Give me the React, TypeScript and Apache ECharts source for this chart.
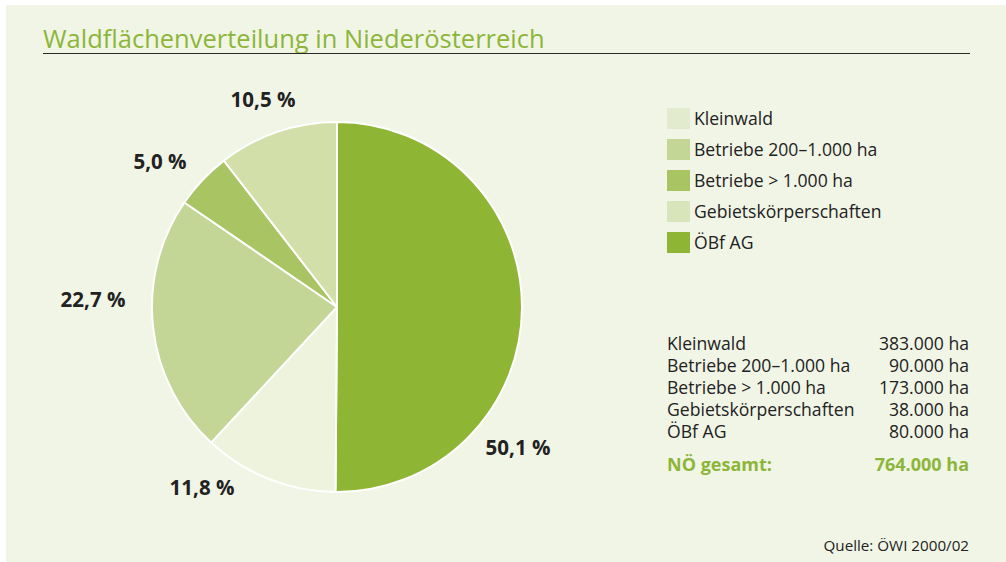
import React, { useEffect, useRef } from "react";
import * as echarts from "echarts";

const sliceNames = ["Kleinwald", "Betriebe 200–1.000 ha", "Betriebe > 1.000 ha", "Gebietskörperschaften", "ÖBf AG"];
const sliceValues = [383, 90, 173, 38, 80];
const sliceLabels = ["50,1 %", "11,8 %", "22,7 %", "5,0 %", "10,5 %"];
const sliceColors = ["#8fb534", "#eef3de", "#c3d696", "#a8c463", "#d2dfa9"];

const legendNames = ["Kleinwald", "Betriebe 200–1.000 ha", "Betriebe > 1.000 ha", "Gebietskörperschaften", "ÖBf AG"];
const legendColors = ["#e3ebcf", "#c3d696", "#a8c463", "#d8e4ba", "#8fb534"];

const tableNames = ["Kleinwald", "Betriebe 200–1.000 ha", "Betriebe > 1.000 ha", "Gebietskörperschaften", "ÖBf AG"];
const tableValues = ["383.000 ha", "90.000 ha", "173.000 ha", "38.000 ha", "80.000 ha"];
const totalLabel = "NÖ gesamt:";
const totalValue = "764.000 ha";

const labelPos = [
  [518, 447],
  [202, 487],
  [93, 299],
  [160, 161],
  [263, 99],
];

const FONT = "'Open Sans', 'Noto Sans', sans-serif";
const GREEN = "#8db53a";
const DARK = "#222222";

export default function App() {
  const ref = useRef<HTMLDivElement>(null);
  useEffect(() => {
    if (!ref.current) return;
    const chart = echarts.init(ref.current, undefined, { renderer: "svg" });
    const graphics: any[] = [
      { type: "rect", z: -10, shape: { x: 6, y: 5, width: 1000, height: 557 }, style: { fill: "#f1f5e6" } },
      {
        type: "text", x: 43, y: 38,
        style: { text: "Waldflächenverteilung in Niederösterreich", fill: GREEN, font: `25.5px ${FONT}`, textVerticalAlign: "middle" },
      },
      { type: "line", shape: { x1: 43, y1: 53.5, x2: 970, y2: 53.5 }, style: { stroke: "#2a2a2a", lineWidth: 1.2 } },
    ];
    legendNames.forEach((n, i) => {
      const cy = 118 + i * 31;
      graphics.push({ type: "rect", shape: { x: 667, y: cy - 10, width: 23, height: 21 }, style: { fill: legendColors[i] } });
      graphics.push({ type: "text", x: 694, y: cy, style: { text: n, fill: DARK, font: `17.6px ${FONT}`, textVerticalAlign: "middle" } });
    });
    tableNames.forEach((n, i) => {
      const cy = 343 + i * 22;
      graphics.push({ type: "text", x: 667, y: cy, style: { text: n, fill: DARK, font: `17.6px ${FONT}`, textVerticalAlign: "middle" } });
      graphics.push({ type: "text", x: 969, y: cy, style: { text: tableValues[i], fill: DARK, font: `17.6px ${FONT}`, textAlign: "right", textVerticalAlign: "middle" } });
    });
    graphics.push({ type: "text", x: 667, y: 464, style: { text: totalLabel, fill: GREEN, font: `bold 18px ${FONT}`, textVerticalAlign: "middle" } });
    graphics.push({ type: "text", x: 969, y: 464, style: { text: totalValue, fill: GREEN, font: `bold 18px ${FONT}`, textAlign: "right", textVerticalAlign: "middle" } });
    graphics.push({ type: "text", x: 969, y: 545, style: { text: "Quelle: ÖWI 2000/02", fill: DARK, font: `15.2px ${FONT}`, textAlign: "right", textVerticalAlign: "middle" } });

    chart.setOption({
      animation: false,
      graphic: graphics,
      series: [
        {
          type: "pie",
          center: [337, 307],
          radius: 185,
          startAngle: 90,
          clockwise: true,
          z: 2,
          itemStyle: { borderColor: "#ffffff", borderWidth: 2 },
          labelLine: { show: false },
          label: {
            show: true,
            position: "outside",
            formatter: (p: any) => sliceLabels[p.dataIndex],
            fontFamily: FONT,
            fontWeight: "bold",
            fontSize: 20.5,
            color: DARK,
          },
          labelLayout: (p: any) => ({
            x: labelPos[p.dataIndex][0],
            y: labelPos[p.dataIndex][1],
            align: "center",
            verticalAlign: "middle",
          }),
          emphasis: { disabled: true },
          data: sliceNames.map((n, i) => ({ name: n, value: sliceValues[i], itemStyle: { color: sliceColors[i] } })),
        },
      ],
    });
    return () => chart.dispose();
  }, []);
  return <div ref={ref} style={{ position: "absolute", left: 0, top: 0, width: 1006, height: 562 }} />;
}
